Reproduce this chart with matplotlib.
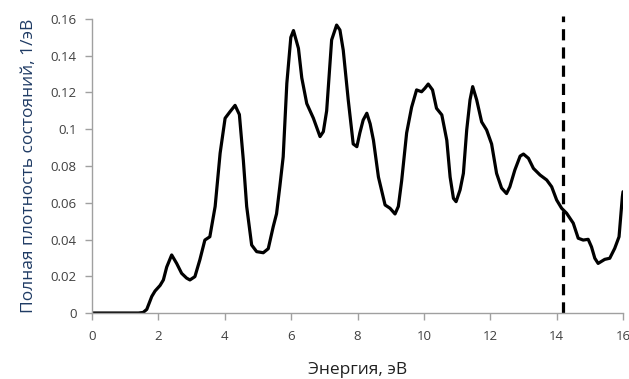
import matplotlib
matplotlib.use('Agg')
import matplotlib.pyplot as plt

plt.rcParams['font.family'] = ['Open Sans', 'DejaVu Sans']

# Total density of states
energy = [0.0, 0.5, 1.0, 1.4, 1.54, 1.65, 1.8, 1.9, 2.05, 2.15, 2.25, 2.4, 2.55, 2.7, 2.85,
          2.95, 3.1, 3.25, 3.4, 3.55, 3.71, 3.86, 4.01, 4.16, 4.31, 4.44, 4.56, 4.66,
          4.81, 4.96, 5.16, 5.31, 5.46, 5.56, 5.66, 5.76, 5.87, 5.99, 6.07, 6.22, 6.32,
          6.47, 6.67, 6.87, 6.97, 7.07, 7.22, 7.37, 7.47, 7.57, 7.72, 7.87, 7.98, 8.07,
          8.17, 8.28, 8.38, 8.48, 8.63, 8.83, 8.98, 9.13, 9.23, 9.33, 9.48, 9.63, 9.78,
          9.93, 10.03, 10.13, 10.26, 10.38, 10.54, 10.69, 10.79, 10.89, 10.97, 11.09,
          11.19, 11.29, 11.39, 11.47, 11.59, 11.74, 11.89, 12.04, 12.19, 12.34, 12.49,
          12.59, 12.74, 12.9, 13.0, 13.15, 13.3, 13.5, 13.7, 13.85, 14.0, 14.15, 14.3,
          14.5, 14.65, 14.8, 14.95, 15.05, 15.15, 15.25, 15.45, 15.6, 15.75, 15.88, 15.98,
          16.0]
dos = [0.0, 0.0, 0.0, 0.0, 0.0003, 0.002, 0.009, 0.012, 0.015, 0.018, 0.025, 0.0316, 0.027,
       0.0216, 0.019, 0.018, 0.0198, 0.029, 0.0397, 0.0415, 0.058, 0.087, 0.106, 0.1096,
       0.113, 0.108, 0.083, 0.058, 0.037, 0.0334, 0.0328, 0.035, 0.047, 0.054, 0.069,
       0.085, 0.125, 0.150, 0.1537, 0.144, 0.128, 0.114, 0.106, 0.096, 0.0987, 0.110,
       0.1486, 0.1567, 0.154, 0.143, 0.116, 0.092, 0.0905, 0.098, 0.105, 0.1087, 0.103,
       0.094, 0.074, 0.0588, 0.057, 0.0539, 0.058, 0.072, 0.098, 0.112, 0.1214, 0.1204,
       0.1223, 0.1246, 0.1214, 0.1114, 0.1078, 0.094, 0.074, 0.0624, 0.0606, 0.067, 0.076,
       0.0996, 0.116, 0.1232, 0.116, 0.104, 0.0996, 0.092, 0.076, 0.068, 0.065, 0.0687,
       0.0778, 0.0854, 0.0865, 0.0842, 0.0787, 0.0751, 0.0724, 0.0687, 0.0615, 0.057,
       0.0543, 0.0489, 0.0407, 0.0397, 0.0401, 0.036, 0.0298, 0.027, 0.0292, 0.0298,
       0.0352, 0.0415, 0.0633, 0.066]
fermi = 14.18
xticks = [0, 2, 4, 6, 8, 10, 12, 14, 16]
yticks = [0, 0.02, 0.04, 0.06, 0.08, 0.1, 0.12, 0.14, 0.16]
ytick_labels = ['0', '0.02', '0.04', '0.06', '0.08', '0.1', '0.12', '0.14', '0.16']

fig = plt.figure(figsize=(6.29, 3.79), dpi=100)
ax = fig.add_axes([0.1463, 0.1741, 0.8442, 0.7758])

ax.plot(energy, dos, color='black', linewidth=2.3, solid_joinstyle='round',
        solid_capstyle='round')
ax.axvline(fermi, ymin=0, ymax=1.01, color='black', linewidth=2.3,
           linestyle=(0, (3.5, 2.2)), clip_on=False)

ax.set_xlim(0, 16)
ax.set_ylim(0, 0.16)
ax.set_xticks(xticks)
ax.set_yticks(yticks)
ax.set_yticklabels(ytick_labels)

for side in ['top', 'right']:
    ax.spines[side].set_visible(False)
for side in ['left', 'bottom']:
    ax.spines[side].set_color('#a0a0a0')
    ax.spines[side].set_linewidth(1.0)
ax.tick_params(axis='both', direction='out', length=5, width=1.0, color='#a0a0a0',
               labelsize=9.5, labelcolor='#404040', pad=6)
ax.tick_params(axis='x', pad=7)

ax.set_xlabel('Энергия, эВ', fontsize=12.5, color='#202020', labelpad=14)
ax.set_ylabel('Полная плотность состояний, 1/эВ', fontsize=12.5, color='#1f3b64',
              labelpad=10)

fig.savefig('out.png', dpi=100)
